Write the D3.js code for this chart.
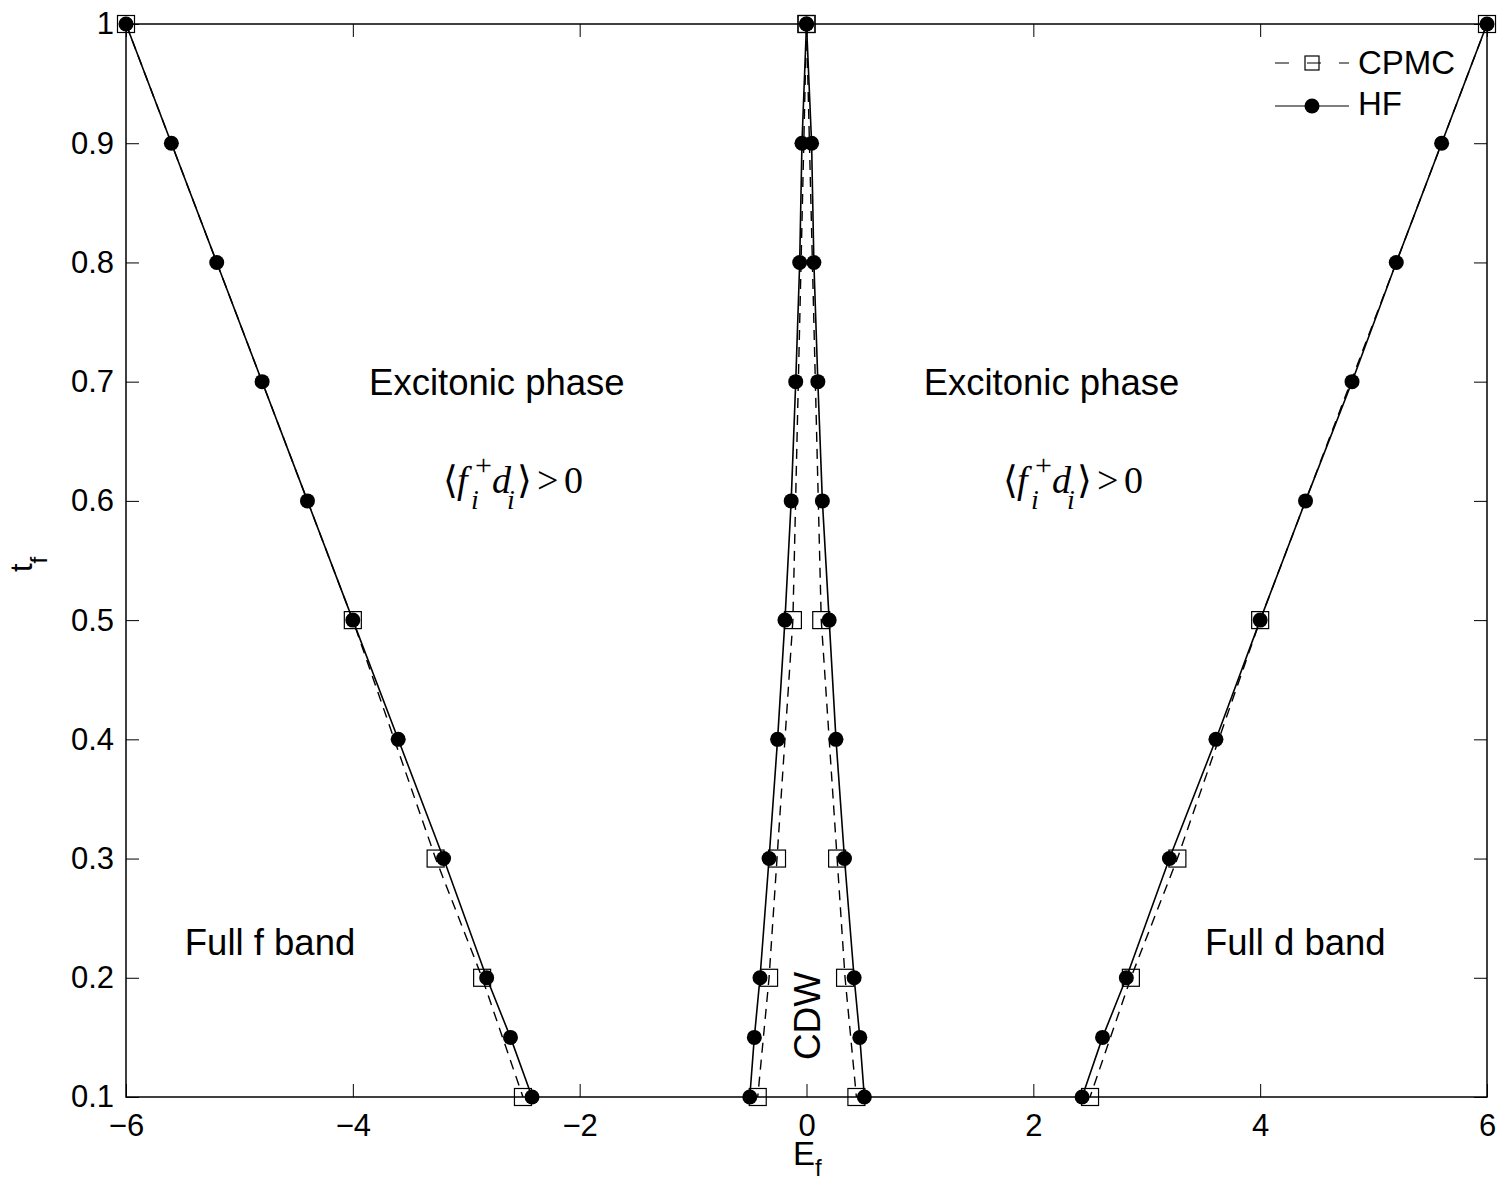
<!DOCTYPE html>
<html>
<head>
  <meta charset="UTF-8">
  <title>Phase diagram E_f vs t_f</title>
  <script src="https://d3js.org/d3.v7.min.js"></script>
  <style>
    body { margin: 0; background: #fff; }
    .axis text { font-family: "Liberation Sans", Arial, sans-serif; font-size: 31px; fill: #000; }
    .axis line { stroke: #000; stroke-width: 1; }
    .axis path { display: none; }
    .label { font-family: "Liberation Sans", Arial, sans-serif; fill: #000; }
    .math { font-family: "Liberation Serif", "Times New Roman", serif; fill: #000; }
  </style>
</head>
<body>
  <svg width="1502" height="1184"></svg>

  <script>
    // HF (Hartree-Fock) boundaries
    const tHF = [1, 0.9, 0.8, 0.7, 0.6, 0.5, 0.4, 0.3, 0.2, 0.15, 0.1];
    const hfOuterLeft  = [-6, -5.6, -5.2, -4.8, -4.4, -4.0, -3.6, -3.2, -2.82, -2.61, -2.42];
    const hfInnerLeft  = [0, -0.04, -0.06, -0.095, -0.135, -0.19, -0.255, -0.33, -0.41, -0.46, -0.5];
    const hfInnerRight = [0, 0.045, 0.065, 0.1, 0.14, 0.2, 0.26, 0.335, 0.42, 0.47, 0.51];
    const hfOuterRight = [6, 5.6, 5.2, 4.81, 4.4, 4.0, 3.61, 3.2, 2.82, 2.61, 2.43];

    // CPMC boundaries
    const tCPMC = [1, 0.5, 0.3, 0.2, 0.1];
    const cpmcOuterLeft  = [-6, -4.0, -3.27, -2.86, -2.5];
    const cpmcInnerLeft  = [0, -0.12, -0.26, -0.33, -0.43];
    const cpmcInnerRight = [0, 0.13, 0.27, 0.34, 0.44];
    const cpmcOuterRight = [6, 4.0, 3.27, 2.86, 2.5];

    const xTicks = [-6, -4, -2, 0, 2, 4, 6];
    const yTicks = [0.1, 0.2, 0.3, 0.4, 0.5, 0.6, 0.7, 0.8, 0.9, 1];

    const svg = d3.select("svg");
    const margin = { top: 24, right: 15, bottom: 87, left: 126 };
    const width = svg.attr("width") - margin.left - margin.right;
    const height = svg.attr("height") - margin.top - margin.bottom;

    const x = d3.scaleLinear().domain([-6, 6]).range([margin.left, margin.left + width]);
    const y = d3.scaleLinear().domain([0.1, 1]).range([margin.top + height, margin.top]);

    const fmtY = d => String(Math.round(d * 10) / 10);

    // axes, ticks pointing inward on all four sides
    svg.append("g").attr("class", "axis")
      .attr("transform", `translate(0,${margin.top + height})`)
      .call(d3.axisBottom(x).tickValues(xTicks).tickSizeInner(-13).tickSizeOuter(0).tickPadding(17));
    svg.append("g").attr("class", "axis")
      .attr("transform", `translate(0,${margin.top})`)
      .call(d3.axisTop(x).tickValues(xTicks).tickSizeInner(-13).tickSizeOuter(0).tickFormat(""));
    svg.append("g").attr("class", "axis")
      .attr("transform", `translate(${margin.left},0)`)
      .call(d3.axisLeft(y).tickValues(yTicks).tickSizeInner(-13).tickSizeOuter(0).tickPadding(12).tickFormat(fmtY));
    svg.append("g").attr("class", "axis")
      .attr("transform", `translate(${margin.left + width},0)`)
      .call(d3.axisRight(y).tickValues(yTicks).tickSizeInner(-13).tickSizeOuter(0).tickFormat(""));

    // series
    const pairs = (xs, ts) => xs.map((v, i) => [v, ts[i]]);
    const line = d3.line().x(d => x(d[0])).y(d => y(d[1]));

    const cpmc = [cpmcOuterLeft, cpmcInnerLeft, cpmcInnerRight, cpmcOuterRight].map(s => pairs(s, tCPMC));
    const hf = [hfOuterLeft, hfInnerLeft, hfInnerRight, hfOuterRight].map(s => pairs(s, tHF));

    svg.append("g").selectAll("path").data(cpmc).join("path")
      .attr("d", line).attr("fill", "none").attr("stroke", "#000")
      .attr("stroke-width", 1.4).attr("stroke-dasharray", "10,7");

    svg.append("g").selectAll("path").data(hf).join("path")
      .attr("d", line).attr("fill", "none").attr("stroke", "#000").attr("stroke-width", 1.6);

    const sq = 17;
    svg.append("g").selectAll("rect").data(cpmc.flat()).join("rect")
      .attr("x", d => x(d[0]) - sq / 2).attr("y", d => y(d[1]) - sq / 2)
      .attr("width", sq).attr("height", sq)
      .attr("fill", "none").attr("stroke", "#000").attr("stroke-width", 1.2);

    svg.append("g").selectAll("circle").data(hf.flat()).join("circle")
      .attr("cx", d => x(d[0])).attr("cy", d => y(d[1])).attr("r", 7.5).attr("fill", "#000");

    // frame
    svg.append("rect")
      .attr("x", margin.left).attr("y", margin.top).attr("width", width).attr("height", height)
      .attr("fill", "none").attr("stroke", "#000").attr("stroke-width", 1.5);

    // legend
    const lg = svg.append("g").attr("transform", `translate(${margin.left + width - 212},0)`);
    lg.append("line").attr("x1", 0).attr("x2", 74).attr("y1", 63).attr("y2", 63)
      .attr("stroke", "#000").attr("stroke-width", 1.2).attr("stroke-dasharray", "14,18");
    lg.append("rect").attr("x", 37 - 7).attr("y", 63 - 7).attr("width", 14).attr("height", 14)
      .attr("fill", "none").attr("stroke", "#000").attr("stroke-width", 1.2);
    lg.append("text").attr("class", "label").attr("x", 83).attr("y", 74).attr("font-size", 33).text("CPMC");
    lg.append("line").attr("x1", 0).attr("x2", 74).attr("y1", 106).attr("y2", 106)
      .attr("stroke", "#000").attr("stroke-width", 1.2);
    lg.append("circle").attr("cx", 37).attr("cy", 106).attr("r", 7.5).attr("fill", "#000");
    lg.append("text").attr("class", "label").attr("x", 83).attr("y", 115).attr("font-size", 33).text("HF");

    // region labels
    const label = (txt, ex, tf, size) => svg.append("text").attr("class", "label")
      .attr("x", x(ex)).attr("y", y(tf)).attr("text-anchor", "middle").attr("font-size", size).text(txt);
    label("Excitonic phase", -2.73, 0.689, 36.5);
    label("Excitonic phase", 2.16, 0.689, 36.5);
    label("Full f band", -4.73, 0.219, 36.5);
    label("Full d band", 4.31, 0.219, 36.5);

    svg.append("text").attr("class", "label").attr("font-size", 37).attr("text-anchor", "middle")
      .attr("transform", `translate(${x(0.12)},${y(0.168)}) rotate(-90)`).text("CDW");

    // <f_i^+ d_i> > 0
    function orderParam(px, py) {
      const g = svg.append("g").attr("class", "math").attr("transform", `translate(${px},${py})`);
      const part = (txt, dx, dy, size, italic) => g.append("text").attr("x", dx).attr("y", dy)
        .attr("font-size", size).attr("font-style", italic ? "italic" : "normal").text(txt);
      part("\u27E8", 0, 0, 38, false);
      part("f", 14, 0, 38, true);
      part("+", 32, -18, 30, false);
      part("i", 28, 16, 28, true);
      part("d", 49, 0, 38, true);
      part("i", 64, 16, 28, true);
      part("\u27E9", 74, 0, 38, false);
      part(">", 94, 0, 38, false);
      part("0", 121, 0, 38, false);
    }
    orderParam(443, 493);
    orderParam(1003, 493);

    // axis titles
    const xt = svg.append("text").attr("class", "label").attr("x", 793).attr("y", 1165).attr("font-size", 33);
    xt.append("tspan").text("E");
    xt.append("tspan").attr("font-size", 24).attr("dy", 11).text("f");

    const yt = svg.append("text").attr("class", "label").attr("font-size", 31)
      .attr("transform", "translate(32,572) rotate(-90)");
    yt.append("tspan").text("t");
    yt.append("tspan").attr("font-size", 24).attr("dy", 15).text("f");
  </script>
</body>
</html>
